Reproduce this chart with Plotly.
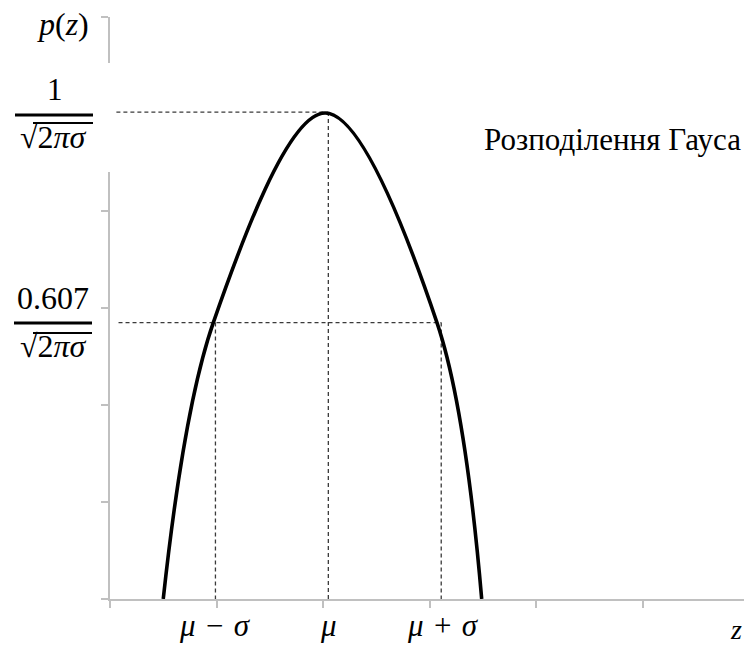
import plotly.graph_objects as go

# ---- data ----
curve_x = [0.50, 0.97, 2.02, 3.07, 3.49]
curve_y = [0.00, 2.85, 5.01, 2.85, 0.00]

peak_level = 5.02
sigma_level = 2.85
mu_minus_sigma = 0.99
mu = 2.05
mu_plus_sigma = 3.11

tick_labels = ["μ − σ", "μ", "μ + σ"]
tick_label_pos = [0.99, 2.05, 3.13]

x_ticks = [0, 1, 2, 3, 4, 5]
y_ticks = [0, 1, 2, 3, 4, 5, 6]

title_text = "Розподілення Гауса"

# ---- layout geometry ----
W, H = 744, 646
L, R, T, B = 110, 0, 17, 47
PW, PH = W - L - R, H - T - B


def px(xp):
    return (xp - L) / PW


def py(yp):
    return (H - B - yp) / PH


MATH_FONT = "'Liberation Serif', 'Times New Roman', serif"
SP = "\u2004"

fig = go.Figure()

# guide lines (dashed)
dash_style = dict(color="#3a3a3a", width=1.3, dash="4px,3px")
fig.add_trace(go.Scatter(x=[0.06, mu], y=[peak_level, peak_level], mode="lines", line=dash_style, hoverinfo="skip"))
fig.add_trace(go.Scatter(x=[mu, mu], y=[peak_level, 0], mode="lines", line=dash_style, hoverinfo="skip"))
fig.add_trace(go.Scatter(x=[0.08, mu_plus_sigma], y=[sigma_level, sigma_level], mode="lines", line=dash_style, hoverinfo="skip"))
fig.add_trace(go.Scatter(x=[mu_minus_sigma, mu_minus_sigma], y=[sigma_level, 0], mode="lines", line=dash_style, hoverinfo="skip"))
fig.add_trace(go.Scatter(x=[mu_plus_sigma, mu_plus_sigma], y=[sigma_level, 0], mode="lines", line=dash_style, hoverinfo="skip"))

# the curve
fig.add_trace(go.Scatter(x=curve_x, y=curve_y, mode="lines",
                         line=dict(color="black", width=3.6, shape="spline", smoothing=1.0),
                         hoverinfo="skip"))

axis_common = dict(showgrid=False, zeroline=False, showline=True, linecolor="#c0c0c0", linewidth=1.5,
                   ticks="outside", tickcolor="#c0c0c0", tickwidth=1.5, ticklen=7, showticklabels=False)

fig.update_layout(
    width=W, height=H,
    margin=dict(l=L, r=R, t=T, b=B, pad=0),
    paper_bgcolor="white", plot_bgcolor="white",
    showlegend=False,
    xaxis=dict(range=[0, PW / 106.5], tickvals=x_ticks, **axis_common),
    yaxis=dict(range=[0, 6], tickvals=y_ticks, **axis_common),
)

annotations = []
for lab, pos in zip(tick_labels, tick_label_pos):
    parts = lab.split(" ")
    txt = SP.join(f"<i>{p}</i>" if p in ("μ", "σ") else p for p in parts)
    annotations.append(dict(x=pos, y=py(625), xref="x", yref="paper", text=txt, showarrow=False,
                            font=dict(family=MATH_FONT, size=31, color="black"), xanchor="center", yanchor="middle"))

annotations += [
    dict(x=px(63), y=py(24), text="<i>p</i>(<i>z</i>)", font=dict(family=MATH_FONT, size=32, color="black")),
    dict(x=px(55), y=py(89), text="1", font=dict(family=MATH_FONT, size=31, color="black")),
    dict(x=px(54), y=py(137), text="√2<i>πσ</i>", font=dict(family=MATH_FONT, size=32, color="black")),
    dict(x=px(53), y=py(298), text="0.607", font=dict(family=MATH_FONT, size=32, color="black")),
    dict(x=px(54), y=py(346), text="√2<i>πσ</i>", font=dict(family=MATH_FONT, size=32, color="black")),
    dict(x=px(612), y=py(139), text=title_text, font=dict(family=MATH_FONT, size=31, color="black")),
    dict(x=px(736), y=py(629), text="<i>z</i>", font=dict(family=MATH_FONT, size=28, color="black")),
]
for a in annotations[len(tick_labels):]:
    a.update(xref="paper", yref="paper", showarrow=False, xanchor="center", yanchor="middle")
fig.update_layout(annotations=annotations)

shapes = [
    # white label box covering part of the y axis
    dict(type="rect", xref="paper", yref="paper", x0=px(98), x1=px(114), y0=py(63), y1=py(172),
         fillcolor="white", line=dict(width=0), layer="above"),
    # fraction bars
    dict(type="line", xref="paper", yref="paper", x0=px(15), x1=px(93), y0=py(115), y1=py(115),
         line=dict(color="black", width=3), layer="above"),
    dict(type="line", xref="paper", yref="paper", x0=px(14), x1=px(92), y0=py(323), y1=py(323),
         line=dict(color="black", width=3), layer="above"),
    # radical overlines
    dict(type="line", xref="paper", yref="paper", x0=px(33), x1=px(93), y0=py(123), y1=py(123),
         line=dict(color="black", width=2), layer="above"),
    dict(type="line", xref="paper", yref="paper", x0=px(33), x1=px(92), y0=py(333), y1=py(333),
         line=dict(color="black", width=2), layer="above"),
]
fig.update_layout(shapes=shapes)

fig.write_html("out.html", config={"displayModeBar": False},
               post_script="document.body.style.margin='0px';document.body.style.padding='0px';")
